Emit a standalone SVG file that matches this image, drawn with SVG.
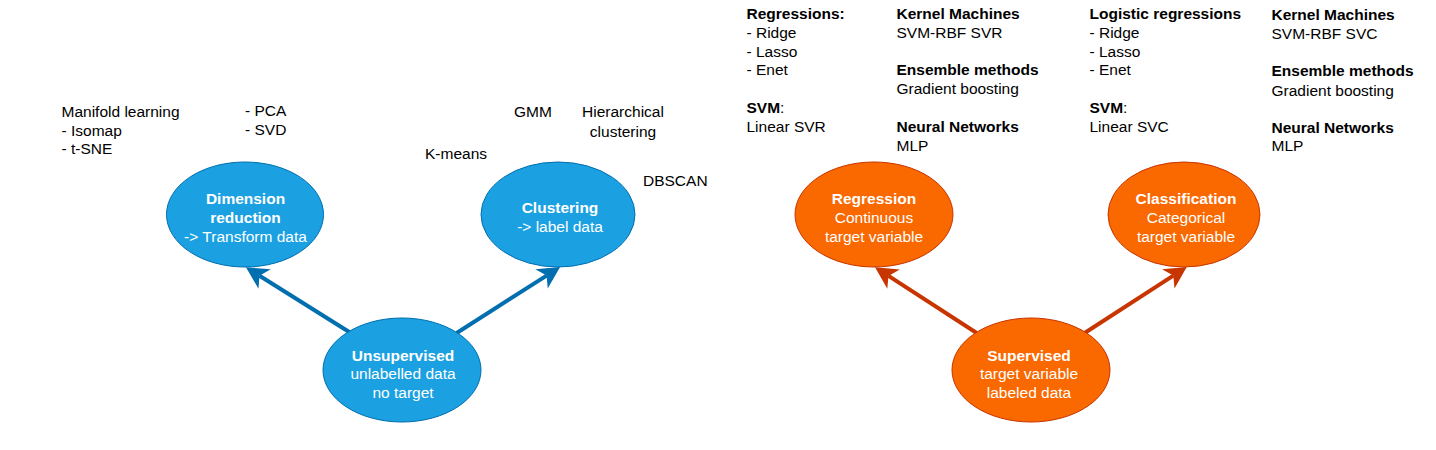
<svg xmlns="http://www.w3.org/2000/svg" width="1436" height="450" viewBox="0 0 1436 450">
<style>
text { font-family: "Liberation Sans", Arial, sans-serif; font-size: 15.5px; }
.lbl { fill: #000000; }
.node text { fill: #ffffff; text-anchor: middle; }
.b { font-weight: bold; }
.blue { fill: #1ba1e2; stroke: #006eaf; stroke-width: 1; }
.orange { fill: #fa6800; stroke: #c73500; stroke-width: 1; }
.eb { stroke: #006eaf; stroke-width: 4; fill: none; }
.eo { stroke: #c73500; stroke-width: 4; fill: none; }
</style>
<defs>
<marker id="ab" markerUnits="userSpaceOnUse" markerWidth="24" markerHeight="24" refX="6" refY="11.5" orient="auto" overflow="visible">
<path d="M22,11.5 L0,0 L6,11.5 L0,23 Z" fill="#006eaf"/>
</marker>
<marker id="ao" markerUnits="userSpaceOnUse" markerWidth="24" markerHeight="24" refX="6" refY="11.5" orient="auto" overflow="visible">
<path d="M22,11.5 L0,0 L6,11.5 L0,23 Z" fill="#c73500"/>
</marker>
</defs>
<rect width="1436" height="450" fill="#ffffff"/>

<g id="connectors">
<line class="eb" x1="350" y1="332.5" x2="259.5" y2="275.8" marker-end="url(#ab)"/>
<line class="eb" x1="456.7" y1="333" x2="546.6" y2="275.6" marker-end="url(#ab)"/>
<line class="eo" x1="976.7" y1="333" x2="888.5" y2="275.9" marker-end="url(#ao)"/>
<line class="eo" x1="1085" y1="332.7" x2="1173.3" y2="275.6" marker-end="url(#ao)"/>
</g>

<g id="dimension-reduction" class="node">
<ellipse class="blue" cx="245" cy="214.5" rx="78.5" ry="52.5"/>
<text x="245.5" y="203.5" class="b">Dimension</text>
<text x="245.5" y="222.5" class="b">reduction</text>
<text x="245.5" y="241.5">-&gt; Transform data</text>
</g>
<g id="clustering" class="node">
<ellipse class="blue" cx="558" cy="214.5" rx="77" ry="52.5"/>
<text x="560" y="212.5" class="b">Clustering</text>
<text x="560" y="232">-&gt; label data</text>
</g>
<g id="unsupervised" class="node">
<ellipse class="blue" cx="402" cy="370" rx="79" ry="52"/>
<text x="403" y="360.5" class="b">Unsupervised</text>
<text x="403" y="379">unlabelled data</text>
<text x="403" y="397.5">no target</text>
</g>
<g id="regression" class="node">
<ellipse class="orange" cx="874" cy="214.5" rx="79" ry="52.5"/>
<text x="874" y="203.5" class="b">Regression</text>
<text x="874" y="222.5">Continuous</text>
<text x="874" y="241.5">target variable</text>
</g>
<g id="classification" class="node">
<ellipse class="orange" cx="1184" cy="214.5" rx="76" ry="52.5"/>
<text x="1186" y="203.5" class="b">Classification</text>
<text x="1186" y="222.5">Categorical</text>
<text x="1186" y="241.5">target variable</text>
</g>
<g id="supervised" class="node">
<ellipse class="orange" cx="1031" cy="370" rx="79" ry="52"/>
<text x="1029" y="360.5" class="b">Supervised</text>
<text x="1029" y="379">target variable</text>
<text x="1029" y="397.5">labeled data</text>
</g>

<g id="dr-methods" class="lbl">
<text x="61.5" y="117">Manifold learning</text>
<text x="61.5" y="135.5">- Isomap</text>
<text x="61.5" y="154">- t-SNE</text>
<text x="245" y="115.5">- PCA</text>
<text x="245" y="134.5">- SVD</text>
</g>
<g id="clustering-methods" class="lbl">
<text x="533" y="117" text-anchor="middle">GMM</text>
<text x="623" y="117" text-anchor="middle">Hierarchical</text>
<text x="623" y="136.5" text-anchor="middle">clustering</text>
<text x="425" y="158.5">K-means</text>
<text x="643" y="185.5">DBSCAN</text>
</g>
<g id="regression-methods" class="lbl">
<text x="746.5" y="19" class="b">Regressions:</text>
<text x="746.5" y="38">- Ridge</text>
<text x="746.5" y="56.5">- Lasso</text>
<text x="746.5" y="75">- Enet</text>
<text x="746.5" y="113"><tspan class="b">SVM</tspan>:</text>
<text x="746.5" y="131.5">Linear SVR</text>
<text x="896.5" y="19" class="b">Kernel Machines</text>
<text x="896.5" y="38">SVM-RBF SVR</text>
<text x="896.5" y="75" class="b">Ensemble methods</text>
<text x="896.5" y="94">Gradient boosting</text>
<text x="896.5" y="131.5" class="b">Neural Networks</text>
<text x="896.5" y="150.5">MLP</text>
</g>
<g id="classification-methods" class="lbl">
<text x="1089.5" y="19" class="b">Logistic regressions</text>
<text x="1089.5" y="38">- Ridge</text>
<text x="1089.5" y="56.5">- Lasso</text>
<text x="1089.5" y="75">- Enet</text>
<text x="1089.5" y="113"><tspan class="b">SVM</tspan>:</text>
<text x="1089.5" y="131.5">Linear SVC</text>
<text x="1271.5" y="20" class="b">Kernel Machines</text>
<text x="1271.5" y="39">SVM-RBF SVC</text>
<text x="1271.5" y="76" class="b">Ensemble methods</text>
<text x="1271.5" y="95.5">Gradient boosting</text>
<text x="1271.5" y="132.5" class="b">Neural Networks</text>
<text x="1271.5" y="151">MLP</text>
</g>
</svg>
